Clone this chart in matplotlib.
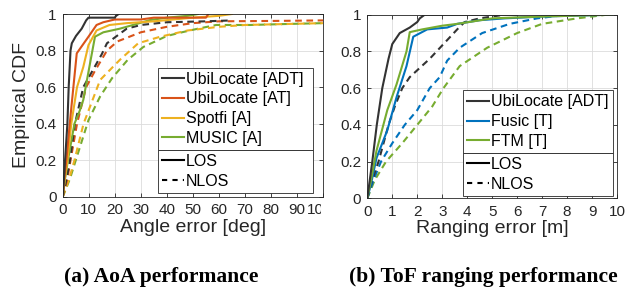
import matplotlib
matplotlib.use("Agg")
import matplotlib.pyplot as plt
import matplotlib.transforms as mtransforms
from matplotlib.lines import Line2D

plt.rcParams['font.family'] = ['Liberation Sans', 'DejaVu Sans']

# MATLAB default colours
c_black = '#333333'
c_orange = '#D95319'
c_yellow = '#EDB120'
c_green = '#77AC30'
c_blue = '#0072BD'
c_axis = '#262626'

# ---- AoA error CDFs (deg, cdf) ----
aoa_adt_los_x = [0, 0.5, 0.9, 1.8, 2.3, 3.0, 3.5, 5.1, 7.3, 9.0, 9.9, 20, 20.5, 21.5]
aoa_adt_los_y = [0, 0.1, 0.2, 0.4, 0.6, 0.8, 0.84, 0.88, 0.92, 0.965, 0.98, 0.98, 0.99, 1.0]
aoa_at_los_x = [0, 0.6, 1.4, 2.7, 4.1, 5.4, 9.9, 13, 15.6, 20, 30, 35, 55, 56]
aoa_at_los_y = [0, 0.1, 0.2, 0.4, 0.6, 0.785, 0.876, 0.94, 0.955, 0.97, 0.97, 0.98, 0.98, 1.0]
aoa_spotfi_los_x = [0, 0.8, 1.8, 3.3, 5.5, 7.9, 9.9, 13, 18, 24.6, 35, 50, 60, 65]
aoa_spotfi_los_y = [0, 0.1, 0.2, 0.4, 0.6, 0.71, 0.83, 0.91, 0.94, 0.95, 0.96, 0.98, 0.99, 1.0]
aoa_music_los_x = [0, 0.9, 2.0, 4.5, 6.5, 7.9, 10.5, 12.4, 15.6, 22, 27, 33.6, 40, 48, 52]
aoa_music_los_y = [0, 0.1, 0.2, 0.4, 0.47, 0.53, 0.73, 0.876, 0.90, 0.92, 0.94, 0.967, 0.98, 0.99, 1.0]

aoa_adt_nlos_x = [0, 1.5, 2.8, 4.7, 7.9, 15, 17, 24.6, 30, 40, 55, 65]
aoa_adt_nlos_y = [0, 0.1, 0.2, 0.4, 0.6, 0.78, 0.84, 0.92, 0.94, 0.955, 0.96, 0.965]
aoa_at_nlos_x = [0, 1.8, 3.0, 5.5, 9.0, 12.4, 17, 21, 30, 40, 50, 60, 80, 100]
aoa_at_nlos_y = [0, 0.1, 0.2, 0.4, 0.6, 0.69, 0.8, 0.85, 0.9, 0.93, 0.95, 0.96, 0.962, 0.965]
aoa_spotfi_nlos_x = [0, 2.5, 4.5, 8.0, 14.4, 22, 29, 37.5, 48, 60, 70, 85, 100]
aoa_spotfi_nlos_y = [0, 0.1, 0.2, 0.4, 0.64, 0.75, 0.84, 0.876, 0.91, 0.93, 0.94, 0.945, 0.95]
aoa_music_nlos_x = [0, 2.8, 5.0, 9.9, 14.4, 19, 25, 31, 40, 45.8, 52, 59, 72, 85, 100]
aoa_music_nlos_y = [0, 0.1, 0.2, 0.42, 0.55, 0.65, 0.75, 0.82, 0.88, 0.90, 0.92, 0.94, 0.94, 0.945, 0.95]

# ---- ToF ranging error CDFs (m, cdf) ----
tof_adt_los_x = [0, 0.1, 0.2, 0.38, 0.6, 0.85, 1.0, 1.3, 1.7, 2.0, 2.1, 2.3, 6.0]
tof_adt_los_y = [0, 0.1, 0.2, 0.4, 0.6, 0.76, 0.84, 0.9, 0.93, 0.96, 0.98, 1.0, 1.0]
tof_fusic_los_x = [0, 0.15, 0.37, 0.8, 1.17, 1.57, 1.84, 2.4, 3.2, 3.6, 4.5, 5.5, 7.0, 9.8]
tof_fusic_los_y = [0, 0.08, 0.22, 0.37, 0.55, 0.72, 0.88, 0.92, 0.93, 0.95, 0.97, 0.98, 0.99, 1.0]
tof_ftm_los_x = [0, 0.15, 0.37, 0.8, 1.17, 1.57, 1.7, 2.2, 3.0, 3.6, 4.3, 5.0, 7.0, 9.8]
tof_ftm_los_y = [0, 0.1, 0.26, 0.48, 0.62, 0.8, 0.905, 0.92, 0.94, 0.95, 0.965, 0.98, 0.99, 1.0]

tof_adt_nlos_x = [0, 0.2, 0.45, 0.65, 0.85, 1.1, 1.4, 1.7, 2.5, 3.05, 3.6, 3.9, 4.5, 5.5]
tof_adt_nlos_y = [0, 0.1, 0.2, 0.3, 0.4, 0.5, 0.6, 0.66, 0.76, 0.84, 0.92, 0.96, 0.98, 1.0]
tof_fusic_nlos_x = [0, 0.25, 0.55, 1.0, 1.5, 2.0, 2.5, 2.9, 3.2, 3.7, 4.6, 5.7, 6.8, 8.0]
tof_fusic_nlos_y = [0, 0.1, 0.2, 0.3, 0.4, 0.48, 0.6, 0.66, 0.75, 0.82, 0.9, 0.95, 0.98, 1.0]
tof_ftm_nlos_x = [0, 0.3, 0.75, 1.4, 2.0, 2.6, 3.05, 3.7, 4.8, 6.0, 7.0, 8.4, 9.6]
tof_ftm_nlos_y = [0, 0.1, 0.2, 0.3, 0.4, 0.5, 0.6, 0.72, 0.82, 0.9, 0.95, 0.98, 1.0]

aoa_labels = ['UbiLocate [ADT]', 'UbiLocate [AT]', 'Spotfi [A]', 'MUSIC [A]']
tof_labels = ['UbiLocate [ADT]', 'Fusic [T]', 'FTM [T]']
aoa_ticks = [0, 10, 20, 30, 40, 50, 60, 70, 80, 90, 100]
tof_ticks = [0, 1, 2, 3, 4, 5, 6, 7, 8, 9, 10]
y_ticks = [0, 0.2, 0.4, 0.6, 0.8, 1]
y_ticklabels = ['0', '0.2', '0.4', '0.6', '0.8', '1']

W, H = 629, 290
fig = plt.figure(figsize=(W / 100, H / 100), dpi=100)

lw = 1.5
dash = (0, (3.2, 2.2))
tick_fs = 11
label_fs = 14
legend_fs = 11.5


def px_axes(x0, x1, y0, y1):
    # pixel box (top-left origin) -> figure fraction
    return fig.add_axes([x0 / W, (H - y1) / H, (x1 - x0) / W, (y1 - y0) / H])


def style_axes(ax):
    ax.set_ylim(0, 1)
    ax.set_yticks(y_ticks)
    ax.set_yticklabels(y_ticklabels)
    ax.grid(True, color='#dcdcdc', lw=0.6)
    ax.set_axisbelow(True)
    for s in ax.spines.values():
        s.set_color(c_axis)
        s.set_linewidth(0.6)
    ax.tick_params(direction='in', top=True, right=True, length=3, width=0.6,
                   colors=c_axis, labelsize=tick_fs, pad=4.5)


def add_legends(ax, colors, labels, x0, w, ydiv, ybot):
    kw = dict(mode='expand', fontsize=legend_fs, handlelength=1.4, handletextpad=0.12,
              labelspacing=0.3, borderpad=0.25, borderaxespad=0, fancybox=False,
              framealpha=1, edgecolor=c_axis)
    h1 = [Line2D([0], [0], color=c, lw=lw) for c in colors]
    leg1 = ax.legend(h1, labels, loc='lower left', bbox_to_anchor=(x0, ydiv, w, 0.1), **kw)
    leg1.get_frame().set_linewidth(0.6)
    ax.add_artist(leg1)
    h2 = [Line2D([0], [0], color='black', lw=lw),
          Line2D([0], [0], color='black', lw=lw, ls=(0, (2.5, 2.5)))]
    leg2 = ax.legend(h2, ['LOS', 'NLOS'], loc='upper left',
                     bbox_to_anchor=(x0, ybot, w, ydiv - ybot), **kw)
    leg2.get_frame().set_linewidth(0.6)


# ---- (a) AoA ----
ax1 = px_axes(62.7, 323, 14, 197)
style_axes(ax1)
ax1.plot(aoa_music_nlos_x, aoa_music_nlos_y, color=c_green, lw=lw, ls=dash)
ax1.plot(aoa_spotfi_nlos_x, aoa_spotfi_nlos_y, color=c_yellow, lw=lw, ls=dash)
ax1.plot(aoa_at_nlos_x, aoa_at_nlos_y, color=c_orange, lw=lw, ls=dash)
ax1.plot(aoa_adt_nlos_x, aoa_adt_nlos_y, color=c_black, lw=lw, ls=dash)
ax1.plot(aoa_music_los_x, aoa_music_los_y, color=c_green, lw=lw)
ax1.plot(aoa_spotfi_los_x, aoa_spotfi_los_y, color=c_yellow, lw=lw)
ax1.plot(aoa_at_los_x, aoa_at_los_y, color=c_orange, lw=lw)
ax1.plot(aoa_adt_los_x, aoa_adt_los_y, color=c_black, lw=lw)
ax1.set_xlim(0, 100)
ax1.set_xticks(aoa_ticks)
ax1.set_xticklabels([str(t) for t in aoa_ticks])
ax1.set_xlabel('Angle error [deg]', fontsize=label_fs, color=c_axis, labelpad=1)
ax1.set_ylabel('Empirical CDF', fontsize=label_fs, color=c_axis, labelpad=4)
add_legends(ax1, [c_black, c_orange, c_yellow, c_green], aoa_labels,
            0.366, 0.595, 0.257, 0.038)

# last tick label sits right after "90" and is cut off at the sub-figure border
last = ax1.get_xticklabels()[-1]
last.set_horizontalalignment('left')
last.set_transform(last.get_transform() + mtransforms.ScaledTranslation(-16.5 / 100, 0, fig.dpi_scale_trans))
last.set_clip_on(True)
last.set_clip_box(mtransforms.TransformedBbox(mtransforms.Bbox.from_extents(0, 0, 321 / W, 1), fig.transFigure))

# ---- (b) ToF ----
ax2 = px_axes(367.3, 617, 14.7, 198.3)
style_axes(ax2)
ax2.plot(tof_ftm_nlos_x, tof_ftm_nlos_y, color=c_green, lw=lw, ls=dash)
ax2.plot(tof_fusic_nlos_x, tof_fusic_nlos_y, color=c_blue, lw=lw, ls=dash)
ax2.plot(tof_adt_nlos_x, tof_adt_nlos_y, color=c_black, lw=lw, ls=dash)
ax2.plot(tof_fusic_los_x, tof_fusic_los_y, color=c_blue, lw=lw)
ax2.plot(tof_ftm_los_x, tof_ftm_los_y, color=c_green, lw=lw)
ax2.plot(tof_adt_los_x, tof_adt_los_y, color=c_black, lw=lw)
ax2.set_xlim(0, 10)
ax2.set_xticks(tof_ticks)
ax2.set_xlabel('Ranging error [m]', fontsize=label_fs, color=c_axis, labelpad=1)
add_legends(ax2, [c_black, c_blue, c_green], tof_labels,
            0.383, 0.60, 0.247, 0.029)

# captions
cap_font = ['Liberation Serif', 'DejaVu Serif']
fig.text(161 / W, 1 - 277 / H, '(a) AoA performance', ha='center', va='center',
         fontsize=15.5, fontweight='bold', family=cap_font)
fig.text(483 / W, 1 - 277 / H, '(b) ToF ranging performance', ha='center', va='center',
         fontsize=15.5, fontweight='bold', family=cap_font)

fig.savefig('out.png', dpi=100)
